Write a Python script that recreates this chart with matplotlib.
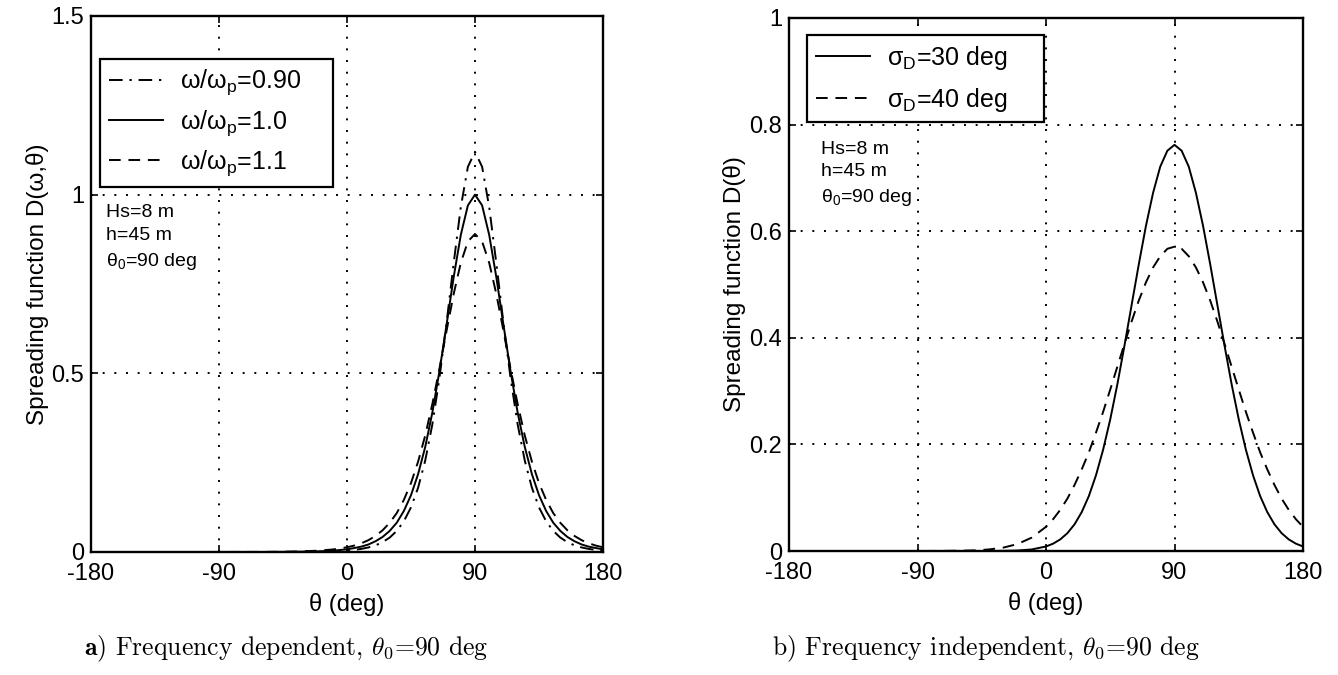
import matplotlib
matplotlib.use("Agg")
import matplotlib.pyplot as plt

plt.rcParams['font.family'] = ['Liberation Sans', 'DejaVu Sans']
plt.rcParams['mathtext.fontset'] = 'custom'
plt.rcParams['mathtext.rm'] = 'Liberation Sans'
plt.rcParams['mathtext.it'] = 'Liberation Sans:italic'
plt.rcParams['axes.unicode_minus'] = False

# ---------------- data ----------------
theta = [-180, -160, -140, -120, -100, -80, -60, -50, -40, -30, -20, -10,
         0, 5, 10, 15, 20, 25, 30, 35, 40, 45, 50, 55, 60, 65, 70, 75, 80, 85,
         90, 95, 100, 105, 110, 115, 120, 125, 130, 135, 140, 145, 150, 155,
         160, 165, 170, 175, 180]

# panel a) frequency dependent
D_w090 = [0, 0, 0, 0, 0, 0, 0, 0.0001, 0.0001, 0.0004, 0.0008, 0.0018,
          0.0039, 0.0058, 0.0086, 0.0127, 0.0186, 0.0274, 0.0403, 0.0591, 0.0862,
          0.125, 0.180, 0.256, 0.357, 0.487, 0.641, 0.808, 0.965, 1.078,
          1.120, 1.078, 0.965, 0.808, 0.641, 0.487, 0.357, 0.256, 0.180, 0.125,
          0.0862, 0.0591, 0.0403, 0.0274, 0.0186, 0.0127, 0.0086, 0.0058, 0.0039]
D_w100 = [0, 0, 0, 0, 0, 0, 0, 0.0002, 0.0005, 0.0009, 0.0018, 0.0037,
          0.0075, 0.011, 0.015, 0.021, 0.030, 0.042, 0.059, 0.082, 0.115,
          0.159, 0.218, 0.294, 0.390, 0.506, 0.636, 0.769, 0.887, 0.970,
          1.000, 0.970, 0.887, 0.769, 0.636, 0.506, 0.390, 0.294, 0.218, 0.159,
          0.115, 0.082, 0.059, 0.042, 0.030, 0.021, 0.015, 0.011, 0.0075]
D_w110 = [0, 0, 0, 0.0001, 0.0001, 0.0002, 0.0003, 0.0006, 0.0011, 0.0021, 0.0038, 0.0071,
          0.0132, 0.0179, 0.0244, 0.0330, 0.0448, 0.0606, 0.0816, 0.109, 0.146,
          0.193, 0.253, 0.326, 0.414, 0.513, 0.619, 0.722, 0.809, 0.869,
          0.890, 0.869, 0.809, 0.722, 0.619, 0.513, 0.414, 0.326, 0.253, 0.193,
          0.146, 0.109, 0.0816, 0.0606, 0.0448, 0.0330, 0.0244, 0.0179, 0.0132]

# panel b) frequency independent
D_s30 = [0, 0, 0, 0, 0, 0, 0, 0, 0, 0.0003, 0.0009, 0.0029,
         0.0085, 0.0138, 0.0218, 0.0335, 0.0501, 0.0729, 0.103, 0.142, 0.190,
         0.247, 0.313, 0.386, 0.462, 0.538, 0.610, 0.672, 0.721, 0.751,
         0.762, 0.751, 0.721, 0.672, 0.610, 0.538, 0.462, 0.386, 0.313, 0.247,
         0.190, 0.142, 0.103, 0.0729, 0.0501, 0.0335, 0.0218, 0.0138, 0.0085]
D_s40 = [0, 0, 0, 0, 0, 0.0001, 0.0005, 0.0012, 0.0029, 0.0063, 0.0130, 0.0251,
         0.0454, 0.0597, 0.0773, 0.0984, 0.124, 0.153, 0.185, 0.222, 0.261,
         0.303, 0.346, 0.389, 0.431, 0.470, 0.504, 0.532, 0.553, 0.567,
         0.571, 0.567, 0.553, 0.532, 0.504, 0.470, 0.431, 0.389, 0.346, 0.303,
         0.261, 0.222, 0.185, 0.153, 0.124, 0.0984, 0.0773, 0.0597, 0.0454]

xticks = [-180, -90, 0, 90, 180]
yticks_a = [0, 0.5, 1, 1.5]
yticklabels_a = ['0', '0.5', '1', '1.5']
yticks_b = [0, 0.2, 0.4, 0.6, 0.8, 1.0]
yticklabels_b = ['0', '0.2', '0.4', '0.6', '0.8', '1']

labels_a = [r'ω/ω$_\mathrm{p}$=0.90', r'ω/ω$_\mathrm{p}$=1.0', r'ω/ω$_\mathrm{p}$=1.1']
labels_b = [r'σ$_\mathrm{D}$=30 deg', r'σ$_\mathrm{D}$=40 deg']

# ---------------- figure ----------------
W, H = 1338, 675
fig = plt.figure(figsize=(W / 100, H / 100), dpi=100)


def px_axes(l, r, t, b):
    return fig.add_axes([l / W, 1 - b / H, (r - l) / W, (b - t) / H])


axA = px_axes(91, 603, 16, 552)
axB = px_axes(789, 1303, 18, 551)

lw = 1.4
dashdot = (0, (7, 3.5, 1.2, 3.5))
dashed = (0, (6, 4))
axA.plot(theta, D_w090, color='black', lw=lw, ls=dashdot, label=labels_a[0])
axA.plot(theta, D_w100, color='black', lw=lw, ls='-', label=labels_a[1])
axA.plot(theta, D_w110, color='black', lw=lw, ls=dashed, label=labels_a[2])

axB.plot(theta, D_s30, color='black', lw=lw, ls='-', label=labels_b[0])
axB.plot(theta, D_s40, color='black', lw=lw, ls=dashed, label=labels_b[1])

for ax, yt, ytl, ymax in [(axA, yticks_a, yticklabels_a, 1.5),
                          (axB, yticks_b, yticklabels_b, 1.0)]:
    ax.set_xlim(-180, 180)
    ax.set_ylim(0, ymax)
    ax.set_xticks(xticks)
    ax.set_xticklabels([str(v) for v in xticks])
    ax.set_yticks(yt)
    ax.set_yticklabels(ytl)
    ax.tick_params(direction='in', length=5, width=1.2, labelsize=17,
                   top=True, right=True)
    ax.tick_params(axis='x', pad=8)
    ax.tick_params(axis='y', pad=5)
    ax.grid(True, color='black', ls=(0, (1, 5)), lw=1.4)
    for s in ax.spines.values():
        s.set_linewidth(1.7)
    ax.set_xlabel('θ (deg)', fontsize=17, labelpad=6)

axA.set_ylabel('Spreading function D(ω,θ)', fontsize=17.5, labelpad=2)
axB.set_ylabel('Spreading function D(θ)', fontsize=17.5, labelpad=2)


def px_box(ax, l, r, t, b):
    """legend box given in figure pixels -> axes fraction bbox"""
    x0, x1 = ax.get_xlim()
    pos = ax.get_position()
    L = pos.x0 * W
    B = (1 - pos.y0) * H
    w = pos.width * W
    h = pos.height * H
    return ((l - L) / w, (B - b) / h, (r - l) / w, (b - t) / h)


leg_kw = dict(loc='upper left', mode='expand', fontsize=18, frameon=True,
              fancybox=False, edgecolor='black', framealpha=1,
              handlelength=2.15, borderaxespad=0, handletextpad=0.7,
              borderpad=0.35)
legA = axA.legend(bbox_to_anchor=px_box(axA, 100, 333, 59, 182),
                  labelspacing=0.42, **leg_kw)
legA.get_frame().set_linewidth(1.6)
legB = axB.legend(bbox_to_anchor=px_box(axB, 807, 1044, 35, 123),
                  labelspacing=0.55, **leg_kw)
legB.get_frame().set_linewidth(1.6)

axA.text(0.03, 0.649, 'Hs=8 m\nh=45 m\nθ$_0$=90 deg', transform=axA.transAxes,
         fontsize=14, va='top', ha='left', linespacing=1.45)
axB.text(0.063, 0.77, 'Hs=8 m\nh=45 m\nθ$_0$=90 deg', transform=axB.transAxes,
         fontsize=14, va='top', ha='left', linespacing=1.45)

fig.text(286 / W, 1 - 649 / H, r'$\mathbf{a)}$ Frequency dependent, $\theta_0$=90 deg',
         fontsize=18.5, family='cmr10', ha='center', va='center',
         math_fontfamily='cm')
fig.text(986 / W, 1 - 649 / H, r'b) Frequency independent, $\theta_0$=90 deg',
         fontsize=18.5, family='cmr10', ha='center', va='center',
         math_fontfamily='cm')

fig.savefig('out.png', dpi=100)
